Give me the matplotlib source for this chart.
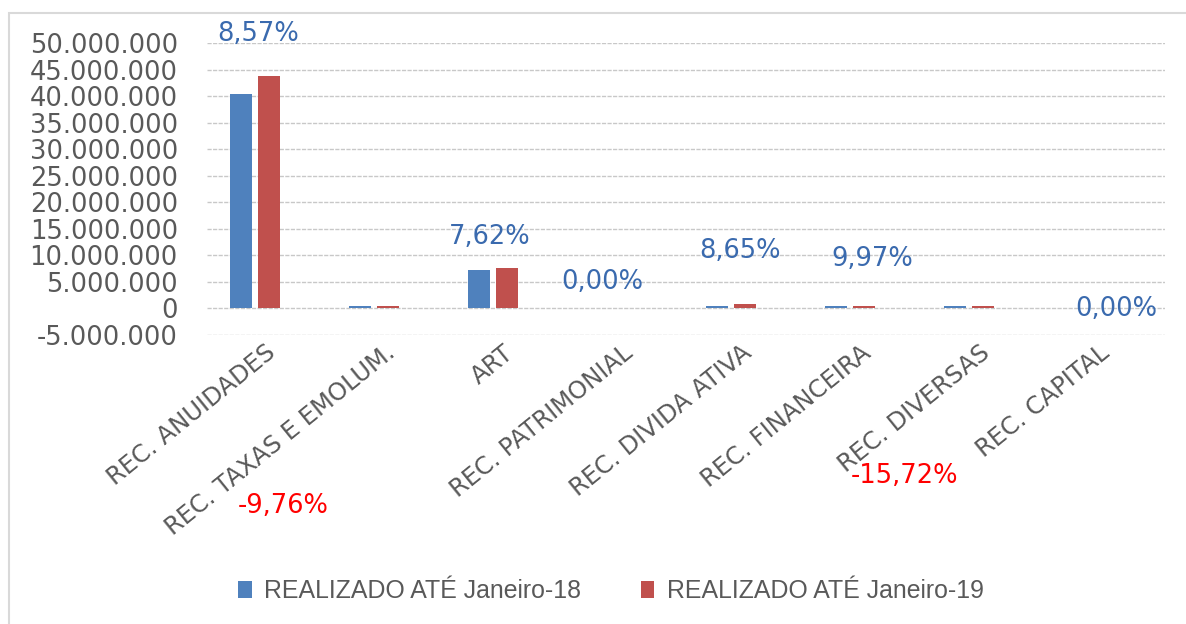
import numpy as np
from matplotlib import pyplot as plt
from matplotlib.patches import Rectangle
from matplotlib.ticker import FuncFormatter
from matplotlib.transforms import ScaledTranslation

# chart data (values in R$)
categories = ['REC. ANUIDADES', 'REC. TAXAS E EMOLUM.', 'ART', 'REC. PATRIMONIAL',
              'REC. DIVIDA ATIVA', 'REC. FINANCEIRA', 'REC. DIVERSAS', 'REC. CAPITAL']
jan18 = [40400000, 500000, 7200000, 0, 400000, 450000, 450000, 0]
jan19 = [43800000, 450000, 7550000, 0, 800000, 500000, 400000, 0]
series_names = ['REALIZADO ATÉ Janeiro-18', 'REALIZADO ATÉ Janeiro-19']

# variation labels
var_text = ['8,57%', '-9,76%', '7,62%', '0,00%', '8,65%', '9,97%', '-15,72%', '0,00%']
var_x = [0.025, 0.235, 1.975, 2.916, 4.076, 5.185, 5.462, 7.235]
var_y = [51.75e6, -37.3e6, 13.55e6, 4.96e6, 10.87e6, 9.3e6, -31.6e6, -0.13e6]

blue = '#4F81BD'
red = '#C0504D'
txt_gray = '#595959'


def fmt_thousands(v, pos):
    s = '{:,.0f}'.format(v)
    return s.replace(',', '.')


def main():
    plt.rcParams['font.family'] = 'DejaVu Sans'
    fig = plt.figure(figsize=(11.86, 6.24), dpi=100)
    W, H = 1186, 624
    ax = fig.add_axes([207 / W, 1 - 335 / H, (1165 - 207) / W, (335 - 43.3) / H])

    x = np.arange(len(categories))
    w = 0.185
    b1 = ax.bar(x - 0.115, jan18, width=w, color=blue, label=series_names[0], zorder=3)
    b2 = ax.bar(x + 0.115, jan19, width=w, color=red, label=series_names[1], zorder=3)

    ax.set_ylim(-5e6, 50e6)
    ax.set_xlim(-0.403, 7.647)
    ax.set_yticks(np.arange(-5e6, 50e6 + 1, 5e6))
    ax.yaxis.set_major_formatter(FuncFormatter(fmt_thousands))
    ax.tick_params(axis='y', length=0, pad=21, labelsize=18.5, labelcolor=txt_gray)
    ax.tick_params(axis='x', length=0, pad=2)
    ax.grid(axis='y', color='#c8c8c8', linestyle=(0, (3, 1)), linewidth=1, zorder=0)
    for s in ax.spines.values():
        s.set_visible(False)

    ax.set_xticks(x)
    ax.set_xticklabels(categories, rotation=39, ha='right', va='center',
                       rotation_mode='anchor', fontsize=17.5, color=txt_gray)
    shift = ScaledTranslation(18 / 100, -12 / 100, fig.dpi_scale_trans)
    for lab in ax.get_xticklabels():
        lab.set_transform(lab.get_transform() + shift)

    for t, tx, ty in zip(var_text, var_x, var_y):
        c = 'red' if t.startswith('-') else '#3A6AAE'
        ax.text(tx, ty, t, ha='center', va='center', fontsize=18.5, color=c,
                clip_on=False, zorder=4)

    fig.legend(handles=[b1, b2], loc='center left',
               bbox_to_anchor=(238 / W, 1 - 591 / H), ncol=2, frameon=False,
               prop={'family': 'Liberation Sans', 'size': 17.9},
               labelcolor=txt_gray, handlelength=0.55, handleheight=0.7,
               handletextpad=0.5, columnspacing=2.4, borderpad=0, borderaxespad=0)

    # outer chart border
    fig.add_artist(Rectangle((9 / W, -0.1), 1.2, 1 - 13 / H + 0.1, transform=fig.transFigure,
                             fill=False, edgecolor='#d9d9d9', linewidth=1.5))

    fig.savefig('out.png', dpi=100)


if __name__ == '__main__':
    main()
